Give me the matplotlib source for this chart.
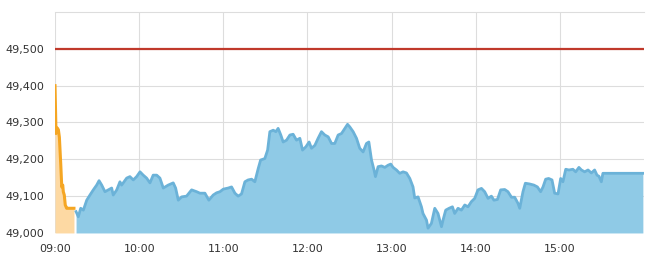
import matplotlib
matplotlib.use("Agg")
import matplotlib.pyplot as plt
from matplotlib.ticker import FuncFormatter

# pre-open auction (minutes after 09:00, price)
pre_min = [0, 0.7, 1.6, 2.4, 3.1, 4.1, 4.8, 5.5, 5.9, 6.6, 7.3, 8.3, 9.5, 13.5]
pre_val = [49400, 49270, 49285, 49280, 49260, 49185, 49125, 49130, 49112, 49103,
           49076, 49067, 49067, 49067]

# regular session (minutes after 09:00, price)
sess_min = [15.0, 16.6, 18.3, 20.2, 22.6, 24.9, 27.3, 29.7, 31.4, 33.3, 35.6, 38.0,
            40.4, 41.5, 44.0, 46.3, 47.5, 49.2, 51.1, 53.4, 55.8, 58.2, 60.1, 60.6,
            62.9, 65.3, 67.7, 70.0, 72.5, 74.8, 77.2, 80.7, 84.3, 86.0, 87.9, 90.3,
            93.8, 97.4, 101.0, 103.3, 106.9, 109.7, 112.8, 115.2, 117.6, 120.0, 123.5,
            125.9, 128.3, 130.6, 133.0, 135.4, 137.7, 140.2, 142.5, 144.9, 146.6,
            149.6, 151.6, 153.2, 155.6, 157.5, 159.1, 161.0, 162.7, 165.1, 167.5,
            169.8, 172.2, 174.6, 176.5, 178.9, 181.2, 182.9, 185.3, 187.6, 190.0,
            192.4, 194.8, 197.2, 199.5, 201.9, 204.3, 206.7, 208.6, 210.2, 212.6,
            215.0, 217.3, 219.7, 222.1, 223.8, 225.7, 227.5, 228.5, 230.4, 232.8,
            235.2, 237.5, 239.4, 241.1, 243.5, 245.8, 248.2, 250.6, 253.0, 255.3,
            256.5, 258.9, 261.3, 262.4, 264.9, 266.0, 268.4, 270.8, 273.1, 275.6,
            276.7, 278.6, 281.0, 283.4, 285.0, 287.4, 289.8, 292.2, 294.5, 296.9,
            299.3, 301.6, 304.1, 306.4, 308.8, 311.2, 313.0, 315.5, 317.8, 320.7,
            323.0, 325.5, 327.8, 330.2, 331.4, 333.7, 335.4, 338.5, 341.5, 344.0,
            346.3, 348.0, 349.9, 352.0, 354.4, 356.3, 358.7, 360.6, 362.2, 364.2,
            366.5, 369.3, 371.3, 373.6, 375.4, 377.7, 380.1, 382.5, 384.8, 386.5,
            387.9, 389.6, 390.7, 419.2]
sess_val = [49058, 49044, 49067, 49062, 49089, 49103, 49117, 49130, 49142, 49130,
            49112, 49117, 49122, 49103, 49117, 49139, 49130, 49139, 49149, 49153,
            49144, 49153, 49163, 49166, 49157, 49149, 49136, 49157, 49157, 49149,
            49122, 49130, 49136, 49122, 49089, 49098, 49100, 49117, 49112, 49108,
            49108, 49089, 49103, 49109, 49112, 49119, 49122, 49125, 49108, 49100,
            49106, 49139, 49144, 49146, 49139, 49175, 49198, 49202, 49225, 49275,
            49279, 49275, 49284, 49266, 49247, 49252, 49266, 49268, 49252, 49257,
            49225, 49234, 49247, 49230, 49238, 49257, 49275, 49266, 49261, 49243,
            49243, 49266, 49270, 49284, 49295, 49288, 49275, 49257, 49230, 49220,
            49243, 49247, 49198, 49171, 49153, 49180, 49182, 49178, 49184, 49187,
            49178, 49171, 49162, 49166, 49163, 49148, 49125, 49095, 49098, 49071,
            49053, 49035, 49013, 49026, 49067, 49053, 49017, 49035, 49062, 49067,
            49071, 49053, 49067, 49062, 49076, 49071, 49085, 49094, 49117, 49121,
            49112, 49094, 49100, 49089, 49091, 49117, 49118, 49112, 49097, 49097,
            49080, 49067, 49112, 49135, 49133, 49130, 49125, 49112, 49125, 49146,
            49148, 49144, 49108, 49106, 49148, 49139, 49173, 49171, 49173, 49166,
            49178, 49171, 49166, 49171, 49163, 49171, 49157, 49154, 49139, 49162,
            49162]

ref_price = 49500
tick_hours = [9, 10, 11, 12, 13, 14, 15]
y_ticks = [49000, 49100, 49200, 49300, 49400, 49500]

pre_x = [9 + m / 60 for m in pre_min]
sess_x = [9 + m / 60 for m in sess_min]

fig = plt.figure(figsize=(6.52, 2.79), dpi=100)
ax = fig.add_axes([0.0844, 0.165, 0.9033, 0.792])

base = 49000
ax.fill_between(pre_x, pre_val, base, color='#fdd9a3', lw=0)
ax.plot(pre_x, pre_val, color='#f5a623', lw=2.2, drawstyle='default',
        solid_joinstyle='round')
ax.fill_between(sess_x, sess_val, base, color='#8fcae6', lw=0)
ax.plot(sess_x, sess_val, color='#6bb2d8', lw=2.0, solid_joinstyle='round')

ax.axhline(ref_price, color='#c0392b', lw=1.6, zorder=5)

ax.set_xlim(9, 16)
ax.set_ylim(49000, 49600)
ax.set_xticks(tick_hours)
ax.set_yticks(y_ticks)
ax.xaxis.set_major_formatter(FuncFormatter(lambda v, p: f"{int(v):02d}:00"))
ax.yaxis.set_major_formatter(FuncFormatter(lambda v, p: f"{int(v):,}"))
ax.grid(True, color='#dddddd', lw=0.8)
ax.set_axisbelow(True)
ax.tick_params(length=0, labelsize=8, colors='#333333', pad=8)

for s in ['right', 'bottom', 'left']:
    ax.spines[s].set_visible(False)
ax.spines['top'].set_color('#dddddd')
ax.spines['top'].set_linewidth(0.8)

fig.savefig('out.png', dpi=100)
